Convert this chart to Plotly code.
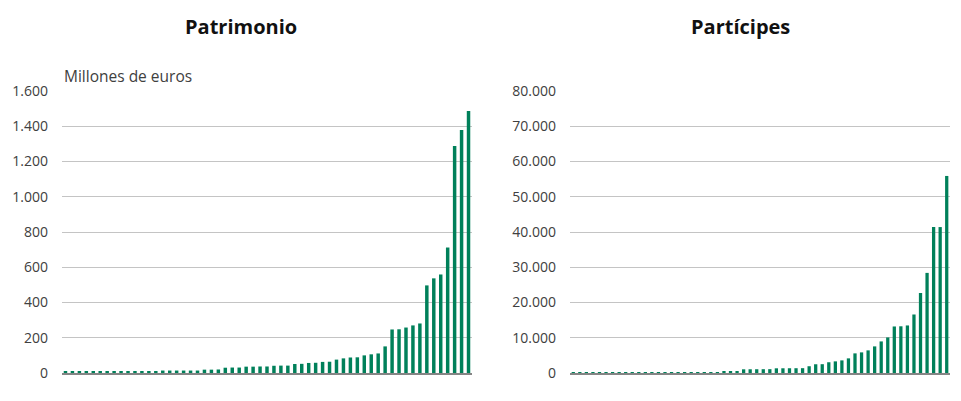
import plotly.graph_objects as go

# Patrimonio (millones de euros), ordered ascending
patrimonio = [10, 9, 9, 9, 9, 9, 9, 9, 9, 9, 9, 10, 9, 9,
              14, 14, 14, 14, 14, 14, 19, 19, 20, 30, 31, 31, 36, 36, 37, 37,
              41, 42, 42, 51, 52, 57, 58, 63, 64, 76, 83, 88, 89, 100, 106, 111,
              151, 247, 248, 258, 270, 281, 497, 537, 559, 712, 1288, 1379, 1487]

# Partícipes, ordered ascending
participes = [180, 190, 200, 200, 200, 210, 210, 220, 220, 220, 230, 230, 240, 240,
              240, 250, 250, 250, 250, 250, 260, 270, 280, 480, 490, 500,
              1050, 1060, 1070, 1080, 1090, 1330, 1340, 1350, 1360, 1370,
              1920, 2480, 2500, 3050, 3300, 3580, 4150, 5570, 5850, 6420,
              7550, 8960, 10090, 13200, 13250, 13490, 16600, 22700, 28400,
              41400, 41400, 55900]

titles = ["Patrimonio", "Partícipes"]
y_unit_label = "Millones de euros"
left_ticks = [0, 200, 400, 600, 800, 1000, 1200, 1400, 1600]
right_ticks = [0, 10000, 20000, 30000, 40000, 50000, 60000, 70000, 80000]

GREEN = "#00805a"
FONT = "Open Sans"
OFF = 8  # page body margin offset
W, H = 961 - OFF, 375

def px(xp):
    return min(1.0, max(0.0, (xp - OFF) / W))

def py(yp):
    return 1 - (yp - OFF) / H

fig = go.Figure()
fig.add_trace(go.Bar(x=list(range(len(patrimonio))), y=patrimonio,
                     marker=dict(color=GREEN, line=dict(width=0)),
                     xaxis="x", yaxis="y", showlegend=False))
fig.add_trace(go.Bar(x=list(range(len(participes))), y=participes,
                     marker=dict(color=GREEN, line=dict(width=0)),
                     xaxis="x2", yaxis="y2", showlegend=False))

common_x = dict(showgrid=False, zeroline=False, showticklabels=False, ticks="",
                showline=True, linecolor="#858585", linewidth=2, fixedrange=True,
                automargin=False)
common_y = dict(showgrid=True, gridcolor="#c4c4c4", gridwidth=1, zeroline=False,
                showline=False, ticks="", tickfont=dict(family=FONT, size=14, color="#404040"),
                tickformat=",d", ticklabelstandoff=13, automargin=False)

fig.update_layout(
    template="none",
    width=W, height=H,
    margin=dict(l=0, r=0, t=0, b=0, autoexpand=False),
    paper_bgcolor="white", plot_bgcolor="white",
    separators=",.",
    bargap=0.5,
    font=dict(family=FONT, color="#404040"),
    xaxis=dict(domain=[px(62), px(472)], range=[-0.5, len(patrimonio) - 0.5], anchor="y", **common_x),
    yaxis=dict(domain=[py(373), py(91)], range=[0, 1600], tickvals=left_ticks, anchor="x", **common_y),
    xaxis2=dict(domain=[px(570), px(950)], range=[-0.5, len(participes) - 0.5], anchor="y2", **common_x),
    yaxis2=dict(domain=[py(373), py(91)], range=[0, 80000], tickvals=right_ticks, anchor="x2", **common_y),
    annotations=[
        dict(text="<b>%s</b>" % titles[0], x=px(241), y=py(27), xref="paper", yref="paper",
             showarrow=False, font=dict(family=FONT, size=20, color="#111111"),
             xanchor="center", yanchor="middle"),
        dict(text="<b>%s</b>" % titles[1], x=px(740), y=py(27), xref="paper", yref="paper",
             showarrow=False, font=dict(family=FONT, size=20, color="#111111"),
             xanchor="center", yanchor="middle"),
        dict(text=y_unit_label, x=px(62), y=py(76), xref="paper", yref="paper",
             showarrow=False, font=dict(family=FONT, size=15.5, color="#404040"),
             xanchor="left", yanchor="middle"),
    ],
)

fig.write_html("out.html")
